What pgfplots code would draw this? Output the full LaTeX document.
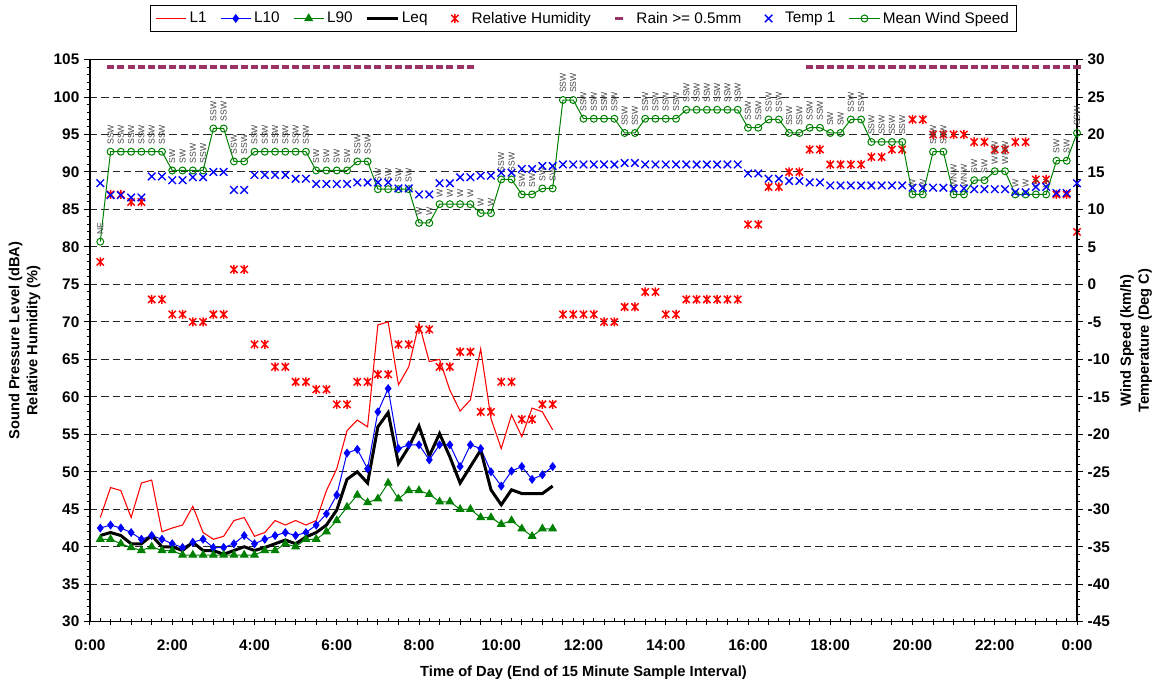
\documentclass[border=0pt]{standalone}
\usepackage{fontspec}
\setmainfont{Liberation Sans}
\usepackage{graphicx}
\usepackage{pgfplots}
\usepackage{pgfplotstable}
\pgfplotsset{compat=1.18}

\definecolor{l1red}{RGB}{255,0,0}
\definecolor{l10blue}{RGB}{0,0,255}
\definecolor{l90green}{RGB}{0,128,0}
\definecolor{rhred}{RGB}{255,0,0}
\definecolor{rainplum}{RGB}{153,51,102}
\definecolor{tempblue}{RGB}{0,0,255}
\definecolor{windgreen}{RGB}{0,128,0}
\definecolor{dirgray}{RGB}{70,70,70}

% star marker: an X crossed by a vertical bar
\pgfdeclareplotmark{humstar}{%
  \pgfpathmoveto{\pgfqpoint{0pt}{\pgfplotmarksize}}%
  \pgfpathlineto{\pgfqpoint{0pt}{-\pgfplotmarksize}}%
  \pgfpathmoveto{\pgfqpoint{-0.8\pgfplotmarksize}{0.8\pgfplotmarksize}}%
  \pgfpathlineto{\pgfqpoint{0.8\pgfplotmarksize}{-0.8\pgfplotmarksize}}%
  \pgfpathmoveto{\pgfqpoint{-0.8\pgfplotmarksize}{-0.8\pgfplotmarksize}}%
  \pgfpathlineto{\pgfqpoint{0.8\pgfplotmarksize}{0.8\pgfplotmarksize}}%
  \pgfusepathqstroke
}

\pgfplotsset{
  L1 style/.style={draw=l1red, color=l1red, line width=0.8pt},
  L10 style/.style={l10blue, line width=0.75pt, mark=diamond*, mark size=2.8pt},
  L90 style/.style={l90green, line width=0.75pt, mark=triangle*, mark size=3.2pt},
  Leq style/.style={black, line width=2.25pt},
  RH style/.style={only marks, rhred, mark=humstar, mark size=3.4pt, line width=1.1pt},
  rain style/.style={only marks, rainplum, mark=-, mark size=2.7pt, line width=2.3pt},
  temp style/.style={only marks, tempblue, mark=x, mark size=4pt, line width=1pt},
  wind style/.style={windgreen, line width=0.75pt, mark=o, mark size=2.6pt, mark options={fill=white}},
  % legend key for marker-only series: one mark centred in a full-width key
  mark key/.style={legend image code/.code={%
      \path (0cm,0cm) (0.7cm,0cm);
      \draw[mark repeat=2, mark phase=2] plot coordinates {(0cm,0cm) (0.35cm,0cm) (0.7cm,0cm)};}},
  chart ticks/.style={
    tick align=outside,
    major tick length=4.5pt, minor tick length=2.5pt,
    tick style={black, line width=0.75pt},
    axis line style={line width=1pt},
    ticklabel style={font=\bfseries\fontsize{11.5}{13}\selectfont},
    /pgf/number format/assume math mode=true,
    label style={font=\bfseries\fontsize{11}{13.5}\selectfont},
  },
}

% noise levels, dBA, end of each 15 minute interval
\pgfplotstableread{
t L1 L10 L90 Leq
0.25 43.9 42.5 41.0 41.5
0.50 47.9 42.9 41.0 41.9
0.75 47.5 42.5 40.4 41.5
1.00 43.9 41.9 39.9 40.4
1.25 48.5 41.0 39.5 40.4
1.50 48.9 41.5 40.0 41.5
1.75 42.0 41.0 39.5 40.0
2.00 42.5 40.4 39.5 40.0
2.25 42.9 39.9 38.9 39.5
2.50 45.4 40.6 38.9 40.6
2.75 41.9 41.0 38.9 39.5
3.00 41.0 39.9 38.9 39.5
3.25 41.4 39.9 38.9 39.0
3.50 43.5 40.4 38.9 39.5
3.75 43.9 41.5 38.9 40.0
4.00 41.4 40.4 38.9 39.5
4.25 41.9 41.0 39.5 39.9
4.50 43.5 41.5 39.5 40.4
4.75 42.9 41.9 40.4 40.9
5.00 43.5 41.5 40.0 40.4
5.25 42.9 41.9 41.0 41.3
5.50 43.5 42.9 41.0 41.9
5.75 47.5 44.4 42.0 42.9
6.00 50.4 46.9 43.5 44.9
6.25 55.5 52.5 45.3 49.0
6.50 56.9 53.0 46.9 50.0
6.75 56.0 50.4 45.9 48.5
7.00 69.6 58.0 46.4 56.0
7.25 70.0 61.1 48.5 57.9
7.50 61.6 53.1 46.4 51.1
7.75 64.0 53.6 47.5 53.3
8.00 69.8 53.6 47.5 56.1
8.25 64.7 51.6 47.0 52.1
8.50 65.0 53.6 46.0 55.1
8.75 60.9 53.6 46.0 52.0
9.00 58.1 50.7 45.0 48.5
9.25 59.6 53.6 45.0 50.7
9.50 66.4 53.1 43.9 52.9
9.75 57.1 50.0 43.9 47.6
10.00 53.1 48.1 43.0 45.6
10.25 57.6 50.1 43.5 47.6
10.50 54.7 50.7 42.4 47.1
10.75 58.5 49.0 41.4 47.1
11.00 58.0 49.6 42.4 47.1
11.25 55.6 50.7 42.4 48.1
}\noise

% weather: relative humidity (%), temperature (deg C), wind speed (km/h), wind direction
\pgfplotstableread{
t rh temp wind dir
0.25 78 13.5 5.7 NE
0.50 87 11.9 17.7 SSW
0.75 87 11.9 17.7 SSW
1.00 86 11.6 17.7 SSW
1.25 86 11.6 17.7 SSW
1.50 73 14.4 17.7 SSW
1.75 73 14.4 17.7 SSW
2.00 71 13.9 15.2 SW
2.25 71 13.9 15.2 SW
2.50 70 14.3 15.2 SSW
2.75 70 14.3 15.2 SSW
3.00 71 15.0 20.8 SSW
3.25 71 15.0 20.8 SSW
3.50 77 12.6 16.4 SSW
3.75 77 12.6 16.4 SSW
4.00 67 14.6 17.7 SSW
4.25 67 14.6 17.7 SSW
4.50 64 14.6 17.7 SSW
4.75 64 14.6 17.7 SSW
5.00 62 14.1 17.7 SSW
5.25 62 14.1 17.7 SSW
5.50 61 13.4 15.2 SW
5.75 61 13.4 15.2 SW
6.00 59 13.4 15.2 SW
6.25 59 13.4 15.2 SW
6.50 62 13.6 16.4 SSW
6.75 62 13.6 16.4 SSW
7.00 63 13.6 12.7 SW
7.25 63 13.6 12.7 SW
7.50 67 12.8 12.7 SW
7.75 67 12.8 12.7 SW
8.00 69 12.0 8.2 W
8.25 69 12.0 8.2 W
8.50 64 13.5 10.7 W
8.75 64 13.5 10.7 W
9.00 66 14.3 10.7 W
9.25 66 14.3 10.7 W
9.50 58 14.5 9.5 W
9.75 58 14.5 9.5 W
10.00 62 14.9 14.0 SSW
10.25 62 14.9 14.0 SSW
10.50 57 15.4 12.0 SW
10.75 57 15.4 12.0 SW
11.00 59 15.8 12.8 SW
11.25 59 15.8 12.8 SW
11.50 71 16.0 24.6 SSW
11.75 71 16.0 24.6 SSW
12.00 71 16.0 22.1 SSW
12.25 71 16.0 22.1 SSW
12.50 70 16.0 22.1 SSW
12.75 70 16.0 22.1 SSW
13.00 72 16.2 20.2 SSW
13.25 72 16.2 20.2 SSW
13.50 74 16.0 22.1 SSW
13.75 74 16.0 22.1 SSW
14.00 71 16.0 22.1 SSW
14.25 71 16.0 22.1 SSW
14.50 73 16.0 23.3 SSW
14.75 73 16.0 23.3 SSW
15.00 73 16.0 23.3 SSW
15.25 73 16.0 23.3 SSW
15.50 73 16.0 23.3 SSW
15.75 73 16.0 23.3 SSW
16.00 83 14.8 20.9 SSW
16.25 83 14.8 20.9 SSW
16.50 88 14.1 22.0 SSW
16.75 88 14.1 22.0 SSW
17.00 90 13.8 20.2 SSW
17.25 90 13.8 20.2 SSW
17.50 93 13.6 20.9 SSW
17.75 93 13.6 20.9 SSW
18.00 91 13.2 20.2 SW
18.25 91 13.2 20.2 SW
18.50 91 13.2 22.0 SSW
18.75 91 13.2 22.0 SSW
19.00 92 13.2 19.0 SSW
19.25 92 13.2 19.0 SSW
19.50 93 13.2 19.0 SSW
19.75 93 13.2 19.0 SSW
20.00 97 12.9 12.0 W
20.25 97 12.9 12.0 W
20.50 95 12.9 17.7 SSW
20.75 95 12.9 17.7 SSW
21.00 95 12.8 12.0 WNW
21.25 95 12.8 12.0 WNW
21.50 94 12.7 13.9 SW
21.75 94 12.7 13.9 SW
22.00 93 12.7 15.1 WNW
22.25 93 12.7 15.1 WNW
22.50 94 12.3 12.0 W
22.75 94 12.3 12.0 W
23.00 89 13.0 12.0 W
23.25 89 13.0 12.0 W
23.50 87 12.2 16.5 SW
23.75 87 12.2 16.5 SW
24.00 82 13.5 20.2 SSW
}\met

\begin{document}
\begin{tikzpicture}
\useasboundingbox (-67.5pt,-44.5pt) rectangle (797.25pt,466.3pt);

% left axis: sound levels and humidity
\begin{axis}[
  at={(0pt,0pt)}, anchor=south west,
  scale only axis, width=740.25pt, height=421.65pt,
  xmin=0, xmax=24, ymin=30, ymax=105,
  chart ticks,
  xtick={0,0.5,...,24},
  xticklabels={0:00,,,,2:00,,,,4:00,,,,6:00,,,,8:00,,,,10:00,,,,12:00,,,,14:00,,,,16:00,,,,18:00,,,,20:00,,,,22:00,,,,0:00},
  minor xtick={0.25,0.75,...,23.75},
  ytick={30,35,...,105},
  minor y tick num=4,
  xtick pos=left, ytick pos=left,
  major x tick style={yshift=2.25pt},
  minor x tick style={yshift=2.5pt},
  xticklabel style={yshift=-5.4pt},
  ymajorgrids,
  major grid style={black!85, line width=0.75pt, dash pattern=on 5.5pt off 3pt},
  xlabel={Time of Day (End of 15 Minute Sample Interval)},
  ylabel={Sound Pressure Level (dBA)\\Relative Humidity (\%)},
  xlabel style={at={(axis description cs:0.5,-0.0913)}, anchor=center},
  ylabel style={at={(axis description cs:-0.0663,0.5)}, anchor=center, align=center},
]
\addplot[L1 style] table[x=t, y=L1] {\noise};
\addplot[L10 style] table[x=t, y=L10] {\noise};
\addplot[L90 style] table[x=t, y=L90] {\noise};
\addplot[Leq style] table[x=t, y=Leq] {\noise};
\addplot[RH style] table[x=t, y=rh] {\met};
\end{axis}

% right axis: rain, temperature and wind
\begin{axis}[
  at={(0pt,0pt)}, anchor=south west,
  scale only axis, width=740.25pt, height=421.65pt,
  xmin=0, xmax=24, ymin=-45, ymax=30,
  axis x line=none, axis y line*=right,
  chart ticks,
  ytick={-45,-40,...,30},
  minor y tick num=4,
  ylabel={Wind Speed (km/h)\\Temperature (Deg C)},
  ylabel style={at={(axis description cs:1.0598,0.5)}, anchor=center, align=center},
  legend columns=-1,
  legend image code/.code={\draw[mark repeat=2, mark phase=2] plot coordinates {(0cm,0cm) (0.4cm,0cm) (0.8cm,0cm)};},
  legend style={
    at={(0.5,1.0486)}, anchor=south,
    draw=black, line width=0.75pt,
    font=\fontsize{11.5}{13}\selectfont,
    inner xsep=4pt, inner ysep=3pt,
    /tikz/every even column/.append style={column sep=8pt},
  },
]
\addlegendimage{L1 style, line width=1pt}\addlegendentry{L1}
\addlegendimage{L10 style}\addlegendentry{L10}
\addlegendimage{L90 style}\addlegendentry{L90}
\addlegendimage{Leq style}\addlegendentry{Leq}
\addlegendimage{RH style, mark key}\addlegendentry{Relative Humidity}
\addlegendimage{rain style, mark key}\addlegendentry{Rain >= 0.5mm}
\addlegendimage{temp style, mark key}\addlegendentry{Temp 1}
\addlegendimage{wind style}\addlegendentry{Mean Wind Speed}

\addplot[rain style, forget plot] coordinates {
  (0.50,29) (0.75,29) (1.00,29) (1.25,29) (1.50,29) (1.75,29) (2.00,29) (2.25,29)
  (2.50,29) (2.75,29) (3.00,29) (3.25,29) (3.50,29) (3.75,29) (4.00,29) (4.25,29)
  (4.50,29) (4.75,29) (5.00,29) (5.25,29) (5.50,29) (5.75,29) (6.00,29) (6.25,29)
  (6.50,29) (6.75,29) (7.00,29) (7.25,29) (7.50,29) (7.75,29) (8.00,29) (8.25,29)
  (8.50,29) (8.75,29) (9.00,29) (9.25,29)
  (17.50,29) (17.75,29) (18.00,29) (18.25,29) (18.50,29) (18.75,29) (19.00,29)
  (19.25,29) (19.50,29) (19.75,29) (20.00,29) (20.25,29) (20.50,29) (20.75,29)
  (21.00,29) (21.25,29) (21.50,29) (21.75,29) (22.00,29) (22.25,29) (22.50,29)
  (22.75,29) (23.00,29) (23.25,29) (23.50,29) (23.75,29) (24.00,29)
};
\addplot[wind style, forget plot,
  nodes near coords={\rotatebox{90}{\pgfplotspointmeta}},
  point meta=explicit symbolic,
  every node near coord/.append style={inner xsep=0pt, inner ysep=5pt, text=dirgray,
    font=\fontsize{6.5}{7}\selectfont}]
  table[x=t, y=wind, meta=dir] {\met};
\addplot[temp style, forget plot] table[x=t, y=temp] {\met};
\end{axis}
\end{tikzpicture}
\end{document}
